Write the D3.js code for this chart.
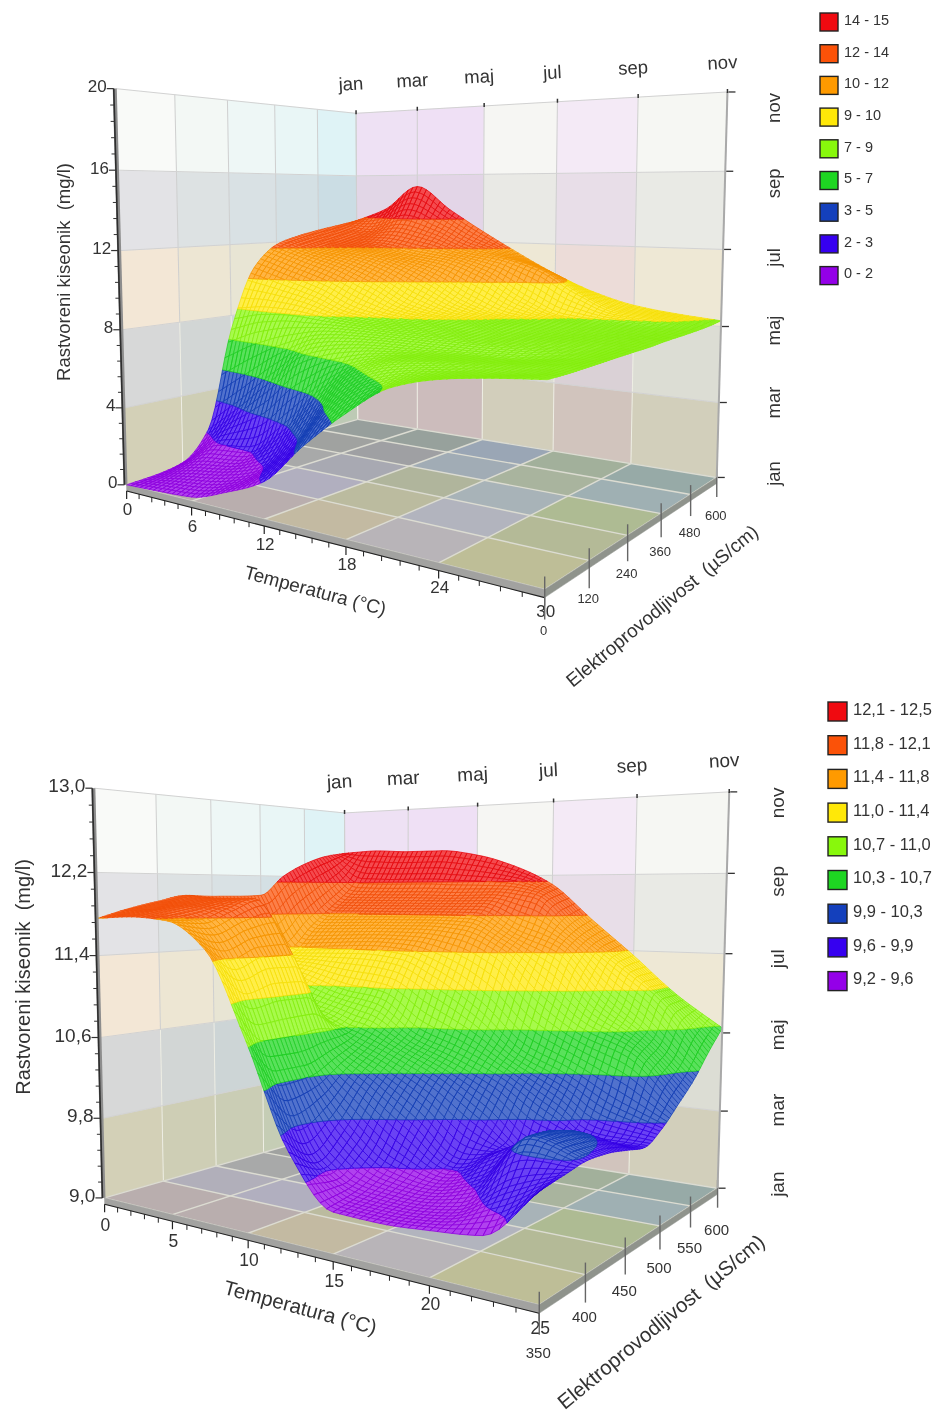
<!DOCTYPE html>
<html><head><meta charset="utf-8">
<script src="https://cdn.jsdelivr.net/npm/d3@7"></script>
<style>html,body{margin:0;padding:0;background:#fff}svg{display:block;filter:blur(.4px)}text{font-family:"Liberation Sans",Arial,sans-serif;fill:#333}</style>
</head><body><svg id="c" width="936" height="1412"></svg>
<script>
// ---------- data ----------
const months = ["jan","mar","maj","jul","sep","nov"];
const tempGrid1 = [0,3,6,9,12,15,18,21,24,27,30];
const condGrid1 = [0,60,120,180,240,300,360,420,480,540,600];
const oxygen1 = [
 [0,.08,.2,.85,1.75,3.75,5.5,6.9,7.5,7.8,8.0],
 [.08,.55,.85,1.4,3.0,5.3,6.6,7.2,7.5,7.7,7.98],
 [.35,1.4,1.6,3.0,5.1,6.65,7.3,7.5,7.6,7.75,8.0],
 [1.8,3.35,5.05,6.67,7.2,7.4,7.45,7.5,7.55,7.75,8.02],
 [7.2,7.8,8.0,8.0,7.95,7.9,7.85,7.8,7.8,7.85,8.04],
 [10.6,10.0,9.4,8.6,8.3,8.2,8.05,7.95,7.95,7.95,8.05],
 [11.85,11.25,10.7,9.9,8.9,8.45,8.25,8.1,8.0,8.0,8.1],
 [12.3,11.7,11.4,10.9,10.1,9.0,8.4,8.25,8.1,8.05,8.12],
 [12.6,12.0,11.8,11.4,11.1,10.4,9.2,8.4,8.25,8.15,8.15],
 [12.85,12.5,13.0,12.5,11.7,11.3,10.7,9.5,8.6,8.4,8.2],
 [13.1,13.9,15.3,13.9,12.6,11.4,10.3,9.4,8.8,8.5,8.3]
];
const tempTicks1 = [0,6,12,18,24,30];
const condTicks1 = [0,120,240,360,480,600];
const oxyTicks1 = [0,4,8,12,16,20];
const oxyLabels1 = ["0","4","8","12","16","20"];
const bandBreaks1 = [0,1.67,3.33,5,6.67,8.33,10,11.67,13.33,15];
const legend1 = ["14 - 15","12 - 14","10 - 12","9 - 10","7 - 9","5 - 7","3 - 5","2 - 3","0 - 2"];

const tempGrid2 = [0,2.5,5,7.5,10,12.5,15,17.5,20,22.5,25];
const condGrid2 = [350,375,400,425,450,475,500,525,550,575,600];
const oxygen2 = [
 [11.76,11.78,11.75,11.5,10.72,9.8,9.36,9.35,9.38,9.43,9.86],
 [11.85,11.85,11.75,11.3,10.4,9.63,9.42,9.4,9.45,9.72,9.89],
 [11.92,11.9,11.85,11.4,10.4,9.85,9.55,9.48,9.62,10.05,9.92],
 [11.98,11.95,11.95,11.4,10.49,10.2,9.9,9.6,9.8,10.02,9.9],
 [11.97,11.2,10.86,10.78,10.6,10.43,10.23,9.94,9.68,9.95,9.85],
 [11.97,11.24,11.1,10.96,10.88,10.61,10.46,10.27,10.0,9.8,9.8],
 [11.98,11.34,11.35,11.36,11.32,11.13,10.85,10.49,10.3,10.05,9.9],
 [12.2,11.6,11.61,11.62,11.62,11.58,11.4,11.0,10.68,10.5,10.06],
 [12.35,11.83,11.83,11.83,11.83,11.83,11.62,11.45,11.0,10.65,10.23],
 [12.45,12.07,12.06,12.06,12.05,12.05,11.99,11.62,11.3,10.95,10.45],
 [12.5,12.52,12.5,12.5,12.44,12.31,12.1,11.72,11.35,10.96,10.65]
];
const tempTicks2 = [0,5,10,15,20,25];
const condTicks2 = [350,400,450,500,550,600];
const oxyTicks2 = [9,9.8,10.6,11.4,12.2,13];
const oxyLabels2 = ["9,0","9,8","10,6","11,4","12,2","13,0"];
const bandBreaks2 = [9.2,9.567,9.933,10.3,10.667,11.033,11.4,11.767,12.133,12.5];
const legend2 = ["12,1 - 12,5","11,8 - 12,1","11,4 - 11,8","11,0 - 11,4","10,7 - 11,0","10,3 - 10,7","9,9 - 10,3","9,6 - 9,9","9,2 - 9,6"];

// ---------- styles ----------
const bandColors = ["#9400e8","#3600f0","#1440bc","#1ed622","#88f80c","#ffe808","#ff9a00","#fb5208","#f00a10"];
const leftWallCols = ["#f9faf8","#f3f8f5","#eef7f6","#e9f6f6","#dff3f6"];
const rightWallCols = ["#eee1f4","#efe0f5","#f6f6f3","#f4eaf6","#f6f7f3"];
const leftWallRows = ["#d8d4bc","#dcdcde","#f9ecdc","#e8e8ec","#ffffff"];
const rightWallRows = ["#dad6c4","#e4e4de","#f7f0e0","#f2f2f0","#ffffff"];
const floorCols = [
 ["#b9aeae","#b9aeae","#c3baa2","#b8b4b8","#bebe97"],
 ["#b1afba","#b1afbf","#bbbb9f","#b2b4be","#b4ba97"],
 ["#a8a9a9","#a8a9b2","#b0b59c","#a8b3b8","#aebb93"],
 ["#a0a2a0","#9fa0a3","#a1acb5","#a9b49e","#9fb0b3"],
 ["#979f9c","#97a19c","#9aa6b5","#a2b09b","#97aaa7"]
];

const svg = d3.select("#c");
const MESH = 70;

function solve(A,b){
  const n=b.length, M=A.map((r,i)=>[...r,b[i]]);
  for(let i=0;i<n;i++){
    let p=i; for(let k=i+1;k<n;k++) if(Math.abs(M[k][i])>Math.abs(M[p][i])) p=k;
    [M[i],M[p]]=[M[p],M[i]];
    for(let k=i+1;k<n;k++){const f=M[k][i]/M[i][i]; for(let j=i;j<=n;j++) M[k][j]-=f*M[i][j];}
  }
  const x=new Array(n).fill(0);
  for(let i=n-1;i>=0;i--){let s=M[i][n]; for(let j=i+1;j<n;j++) s-=M[i][j]*x[j]; x[i]=s/M[i][i];}
  return x;
}
function camera(corners){
  const rows=[],rhs=[];
  corners.forEach(([X,Y,Z,u,v])=>{
    rows.push([X,Y,Z,1,0,0,0,0,-u*X,-u*Y,-u*Z]); rhs.push(u);
    rows.push([0,0,0,0,X,Y,Z,1,-v*X,-v*Y,-v*Z]); rhs.push(v);
  });
  const n=11, AtA=d3.range(n).map(i=>d3.range(n).map(j=>d3.sum(rows,r=>r[i]*r[j])));
  const Atb=d3.range(n).map(i=>d3.sum(rows,(r,k)=>r[i]*rhs[k]));
  const p=solve(AtA,Atb);
  return (t,c,h)=>{const w=p[8]*t+p[9]*c+p[10]*h+1;
    return [(p[0]*t+p[1]*c+p[2]*h+p[3])/w,(p[4]*t+p[5]*c+p[6]*h+p[7])/w];};
}
function pchip(ys,n){
  const L=ys.length-1, d=d3.range(L).map(i=>ys[i+1]-ys[i]);
  const m=ys.map((_,i)=>i===0?d[0]:i===L?d[L-1]:(d[i-1]*d[i]<=0?0:2*d[i-1]*d[i]/(d[i-1]+d[i])));
  return d3.range(n+1).map(k=>{
    const u=k/n*L, i=Math.min(L-1,Math.floor(u)), s=u-i, s2=s*s, s3=s2*s;
    return (2*s3-3*s2+1)*ys[i]+(s3-2*s2+s)*m[i]+(-2*s3+3*s2)*ys[i+1]+(s3-s2)*m[i+1];
  });
}
function clip(poly,lim,keepAbove){
  const out=[];
  for(let i=0;i<poly.length;i++){
    const a=poly[i],b=poly[(i+1)%poly.length];
    const ia=keepAbove?a[2]>=lim:a[2]<=lim, ib=keepAbove?b[2]>=lim:b[2]<=lim;
    if(ia) out.push(a);
    if(ia!==ib){const f=(lim-a[2])/(b[2]-a[2]); out.push([a[0]+f*(b[0]-a[0]),a[1]+f*(b[1]-a[1]),lim]);}
  }
  return out;
}
const area=q=>d3.polygonArea(q.map(p=>[p[0],p[1]]));
const mul=(a,b)=>{const x=d3.rgb(a),y=d3.rgb(b);return d3.rgb(x.r*y.r/255,x.g*y.g/255,x.b*y.b/255).formatHex();};

function drawChart(o){
  const g=svg.append("g");
  const tS=d3.scaleLinear().domain(d3.extent(o.tempGrid)).range([0,1]);
  const cS=d3.scaleLinear().domain(d3.extent(o.condGrid)).range([0,1]);
  const zS=d3.scaleLinear().domain(d3.extent(o.oxyTicks)).range([0,1]);
  const P=camera(o.corners);
  const line=d3.line();
  const poly=(pts,fill)=>g.append("path").attr("d",line(pts)+"Z").attr("fill",fill).attr("stroke",fill).attr("stroke-width",.5);
  const seg=(a,b,col,w)=>g.append("line").attr("x1",a[0]).attr("y1",a[1]).attr("x2",b[0]).attr("y2",b[1]).attr("stroke",col).attr("stroke-width",w);
  const tT=o.tempTicks.map(tS), tC=o.condTicks.map(cS), tZ=o.oxyTicks.map(zS);

  // walls
  d3.range(5).forEach(i=>d3.range(5).forEach(r=>{
    poly([P(0,tC[i],tZ[r]),P(0,tC[i+1],tZ[r]),P(0,tC[i+1],tZ[r+1]),P(0,tC[i],tZ[r+1])],mul(leftWallCols[i],leftWallRows[r]));
    poly([P(tT[i],1,tZ[r]),P(tT[i+1],1,tZ[r]),P(tT[i+1],1,tZ[r+1]),P(tT[i],1,tZ[r+1])],mul(rightWallCols[i],rightWallRows[r]));
  }));
  // wall grid lines
  const gridCol=r=>r<2?"#eeeee4":"#cfcfcf";
  d3.range(5).forEach(r=>{
    tC.forEach(c=>seg(P(0,c,tZ[r]),P(0,c,tZ[r+1]),gridCol(r),1));
    tT.forEach(t=>seg(P(t,1,tZ[r]),P(t,1,tZ[r+1]),gridCol(r),1));
  });
  tZ.forEach((z,r)=>{ if(r===0) return;
    seg(P(0,0,z),P(0,1,z),"#d2d2d2",1);
    seg(P(0,1,z),P(1,1,z),"#d2d2d2",1);
  });
  // floor
  d3.range(5).forEach(i=>d3.range(5).forEach(j=>{
    poly([P(tT[i],tC[j],0),P(tT[i+1],tC[j],0),P(tT[i+1],tC[j+1],0),P(tT[i],tC[j+1],0)],floorCols[j][i]);
  }));
  tT.forEach(t=>seg(P(t,0,0),P(t,1,0),"#dcdcd2",1.4));
  tC.forEach(c=>seg(P(0,c,0),P(1,c,0),"#dcdcd2",1.4));
  // floor slab edges
  const slab=-.016;
  poly([P(0,0,0),P(1,0,0),P(1,0,slab),P(0,0,slab)],"#a2a2a0");
  poly([P(1,0,0),P(1,1,0),P(1,1,slab),P(1,0,slab)],"#8f938c");

  // surface
  const rowsUp=o.oxygen.map(r=>pchip(r,MESH));
  const cols=d3.range(MESH+1).map(j=>pchip(rowsUp.map(r=>r[j]),MESH));
  const Z=(i,j)=>cols[j][i];
  const pts=d3.range(MESH+1).map(i=>d3.range(MESH+1).map(j=>{
    const z=Z(i,j),q=P(j/MESH,i/MESH,zS(z));return [q[0],q[1],z];
  }));
  const floorSign=Math.sign(area([P(0,0,0),P(1,0,0),P(1,1,0),P(0,1,0)]));
  const br=o.breaks;
  const gs=g.append("g").attr("stroke-linejoin","round");
  const rnd=v=>Math.round(v*10)/10;
  for(let i=MESH-1;i>=0;i--){
    let run=null;
    const flush=()=>{ if(!run) return;
      const base=bandColors[run.b];
      const fill=run.back?d3.interpolateRgb(base,"#000")(.12):d3.interpolateRgb(base,"#fff")(.26);
      const stroke=run.back?d3.interpolateRgb(base,"#000")(.16):d3.interpolateRgb(base,"#000")(.04);
      gs.append("path").attr("d",run.d).attr("fill",fill).attr("stroke",stroke).attr("stroke-width",.75);
      run=null; };
    for(let j=0;j<MESH;j++){
      const q=[pts[i][j],pts[i][j+1],pts[i+1][j+1],pts[i+1][j]];
      const back=Math.sign(area(q))!==floorSign;
      const lo=d3.min(q,p=>p[2]),hi=d3.max(q,p=>p[2]);
      for(let b=0;b<9;b++){
        const l=b===0?-Infinity:br[b], h=b===8?Infinity:br[b+1];
        if(hi<l||lo>h) continue;
        let pl=q;
        if(l>-Infinity&&lo<l) pl=clip(pl,l,true);
        if(h<Infinity&&hi>h) pl=clip(pl,h,false);
        if(pl.length<3) continue;
        if(!run||run.b!==b||run.back!==back){flush();run={b,back,d:""};}
        run.d+="M"+pl.map(p=>rnd(p[0])+","+rnd(p[1])).join("L")+"Z";
      }
    }
    flush();
  }

  // axes: oxygen
  const zA=P(0,0,0),zB=P(0,0,1);
  seg([zA[0]-1,zA[1]],[zB[0]-1,zB[1]],"#8d8d8d",4);
  seg([zA[0]-2,zA[1]],[zB[0]-2,zB[1]],"#2e2e2e",1.6);
  tZ.forEach((z,i)=>{
    const q=P(0,0,z);
    seg([q[0]-2,q[1]],[q[0]-9,q[1]],"#333",1.2);
    if(i<5) d3.range(1,5).forEach(k=>{
      const q2=P(0,0,z+(tZ[i+1]-z)*k/5);
      seg([q2[0]-2,q2[1]],[q2[0]-6,q2[1]],"#333",1);
    });
    g.append("text").attr("x",q[0]-9).attr("y",q[1]-1).attr("text-anchor","end").attr("dominant-baseline","middle")
     .attr("font-size",o.fsOxy).text(o.oxyLabels[i]);
  });
  // axes: temperature
  const tA=P(0,0,slab),tB=P(1,0,slab);
  seg(tA,tB,"#222",1.1);
  tT.forEach((t,i)=>{
    const q=P(t,0,slab);
    seg(q,[q[0],q[1]+8],"#222",1.2);
    if(i<5) d3.range(1,5).forEach(k=>{
      const q2=P(t+(tT[i+1]-t)*k/5,0,slab);
      seg(q2,[q2[0],q2[1]+5],"#222",1);
    });
    const f=P(t,0,0);
    g.append("text").attr("x",f[0]+1).attr("y",f[1]+o.tOff-(i===5?3:0)).attr("text-anchor","middle").attr("dominant-baseline","middle")
     .attr("font-size",o.fsLabel).text(o.tempTicks[i]);
  });
  // axes: conductivity
  tC.forEach((c,i)=>{
    const q=P(1,c,0),sc=1-c*.35;
    seg([q[0],q[1]-13*sc],[q[0],q[1]+30*sc],"#666",1.4);
    g.append("text").attr("x",q[0]-1).attr("y",q[1]+o.cOff+(i===0?o.cFirst:0)).attr("text-anchor","middle").attr("dominant-baseline","middle")
     .attr("font-size",o.fsCond).text(o.condTicks[i]);
  });
  // right edge and month ticks
  const rA=P(1,1,0),rB=P(1,1,1);
  seg(rA,rB,"#a9a9a9",2);
  d3.range(6).forEach(i=>{
    const q=P(1,1,i/5);
    seg([q[0]+1,q[1]],[q[0]+8,q[1]],"#333",1.3);
    g.append("text").attr("transform",`translate(${o.rightX},${q[1]-4+o.rStep*i}) rotate(-90)`)
     .attr("text-anchor","middle").attr("dominant-baseline","middle").attr("font-size",o.fsMonth).text(months[i]);
    const u=P(i/5,1,1);
    seg([u[0],u[1]-3],[u[0],u[1]+1],"#333",1.5);
    g.append("text").attr("transform",`translate(${u[0]-5},${u[1]-o.topOff}) rotate(-3)`)
     .attr("text-anchor","middle").attr("dominant-baseline","middle").attr("font-size",o.fsMonth).text(months[i]);
  });
  // titles
  const title=(t,x,y,r,fs)=>g.append("text").attr("transform",`translate(${x},${y}) rotate(${r})`)
     .attr("text-anchor","middle").attr("dominant-baseline","middle").attr("font-size",fs).text(t);
  title("Rastvoreni kiseonik  (mg/l)",o.yTitle[0],o.yTitle[1],-90,o.fsTitleY).attr("xml:space","preserve");
  title("Temperatura (°C)",o.xTitle[0],o.xTitle[1],o.xTitle[2],o.fsTitle);
  title("Elektroprovodljivost  (µS/cm)",o.cTitle[0],o.cTitle[1],o.cTitle[2],o.fsTitle).attr("xml:space","preserve");
  // legend
  o.legend.forEach((t,i)=>{
    const y=o.legendY+i*o.legendStep, col=bandColors[8-i];
    g.append("rect").attr("x",o.legendX).attr("y",y).attr("width",o.swatch).attr("height",o.swatch)
     .attr("fill",col).attr("stroke","#222").attr("stroke-width",1.4);
    g.append("text").attr("x",o.legendX+o.swatch+6).attr("y",y+o.swatch/2-1).attr("dominant-baseline","middle")
     .attr("font-size",o.fsLegend).text(t);
  });
}

drawChart({
  tempGrid:tempGrid1,condGrid:condGrid1,oxygen:oxygen1,tempTicks:tempTicks1,condTicks:condTicks1,
  oxyTicks:oxyTicks1,oxyLabels:oxyLabels1,breaks:bandBreaks1,legend:legend1,
  corners:[[0,0,0,127,484],[1,0,0,545,590],[1,1,0,717,477],[0,1,0,357,420],[0,0,1,115,89],[0,1,1,357,113],[1,1,1,727,92]],
  fsLabel:17,fsOxy:17,fsCond:13,fsMonth:18.5,fsTitle:19,fsTitleY:18.5,fsLegend:14.5,tOff:26,cOff:39,cFirst:3,rightX:775,rStep:4,topOff:28,
  yTitle:[65,272],xTitle:[315,592,15],cTitle:[663,607,-39.5],
  legendX:820,legendY:13,legendStep:31.7,swatch:18
});
drawChart({
  tempGrid:tempGrid2,condGrid:condGrid2,oxygen:oxygen2,tempTicks:tempTicks2,condTicks:condTicks2,
  oxyTicks:oxyTicks2,oxyLabels:oxyLabels2,breaks:bandBreaks2,legend:legend2,
  corners:[[0,0,0,105,1198],[1,0,0,539,1305],[1,1,0,718,1188],[0,1,0,345,1129],[0,0,1,94,788],[0,1,1,345,813],[1,1,1,729,792]],
  fsLabel:17.5,fsOxy:19,fsCond:15,fsMonth:19,fsTitle:20.5,fsTitleY:20,fsLegend:16.5,tOff:28,cOff:43,cFirst:6,rightX:779,rStep:3,topOff:30,
  yTitle:[25,977],xTitle:[300,1309,15],cTitle:[662,1323,-39.5],
  legendX:828,legendY:702,legendStep:33.7,swatch:19
});
</script></body></html>
